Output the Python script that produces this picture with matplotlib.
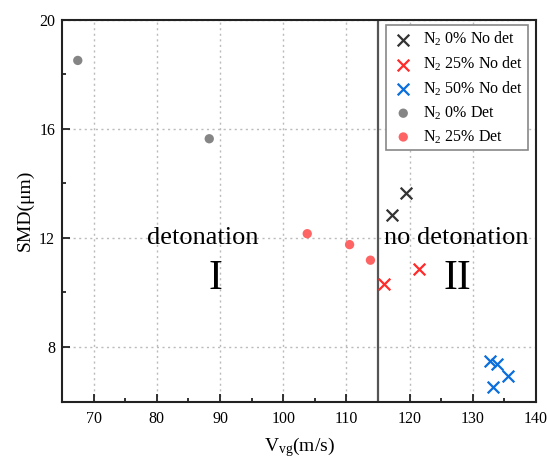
import matplotlib
matplotlib.use("Agg")
import matplotlib.pyplot as plt
from matplotlib.ticker import MultipleLocator

plt.rcParams['font.family'] = ['Liberation Serif', 'DejaVu Serif']
plt.rcParams['mathtext.fontset'] = 'custom'
plt.rcParams['mathtext.rm'] = 'Liberation Serif'
plt.rcParams['mathtext.it'] = 'Liberation Serif'

# Data
n0_nodet_x = [117.2, 119.5]
n0_nodet_y = [12.85, 13.65]
n25_nodet_x = [116.0, 121.5]
n25_nodet_y = [10.29, 10.87]
n50_nodet_x = [132.7, 133.8, 135.5, 133.2]
n50_nodet_y = [7.47, 7.36, 6.92, 6.53]
n0_det_x = [67.5, 88.3]
n0_det_y = [18.5, 15.63]
n25_det_x = [103.8, 110.5, 113.8]
n25_det_y = [12.15, 11.75, 11.18]
boundary_x = 115

fig = plt.figure(figsize=(5.47, 4.61), dpi=100)
ax = fig.add_axes([0.1133, 0.129, 0.8667, 0.8287])

ax.scatter(n0_nodet_x, n0_nodet_y, marker='x', s=70, color='#333333', linewidths=1.6,
           label=r'N$_2$ 0% No det', zorder=3)
ax.scatter(n25_nodet_x, n25_nodet_y, marker='x', s=70, color='#ff2a2a', linewidths=1.6,
           label=r'N$_2$ 25% No det', zorder=3)
ax.scatter(n50_nodet_x, n50_nodet_y, marker='x', s=70, color='#0a6fdc', linewidths=1.6,
           label=r'N$_2$ 50% No det', zorder=3)
ax.scatter(n0_det_x, n0_det_y, marker='o', s=45, color='#858585', edgecolors='none',
           label=r'N$_2$ 0% Det', zorder=3)
ax.scatter(n25_det_x, n25_det_y, marker='o', s=45, color='#ff6464', edgecolors='none',
           label=r'N$_2$ 25% Det', zorder=3)

ax.axvline(boundary_x, color='#555555', lw=1.6, zorder=2)

ax.set_xlim(65, 140)
ax.set_ylim(6, 20)
ax.xaxis.set_major_locator(MultipleLocator(10))
ax.xaxis.set_minor_locator(MultipleLocator(5))
ax.yaxis.set_major_locator(MultipleLocator(4))
ax.yaxis.set_minor_locator(MultipleLocator(2))
ax.tick_params(which='both', direction='in', labelsize=11.5, width=1.3, color='#222222')
ax.tick_params(which='major', length=6)
ax.tick_params(which='minor', length=3)
ax.tick_params(axis='x', pad=7)
ax.tick_params(axis='y', pad=5)
ax.grid(True, which='major', linestyle=(0, (1.5, 2.5)), color='#bbbbbb', lw=1)
for sp in ax.spines.values():
    sp.set_linewidth(1.5)
    sp.set_color('#222222')

ax.set_xlabel(r'V$_{\mathrm{vg}}$(m/s)', fontsize=14, labelpad=6)
ax.set_ylabel('SMD(μm)', fontsize=14, labelpad=4)

ax.text(87.2, 12.0, 'detonation', fontsize=19, ha='center', va='center')
ax.text(89.2, 10.5, 'I', fontsize=30, ha='center', va='center')
ax.text(127.4, 12.0, 'no detonation', fontsize=19, ha='center', va='center')
ax.text(127.6, 10.5, 'II', fontsize=30, ha='center', va='center')

leg = ax.legend(loc='upper right', fontsize=11.5, frameon=True, fancybox=False,
                edgecolor='#888888', framealpha=1, borderpad=0.3, handletextpad=0.45,
                labelspacing=0.4, handlelength=1.6, borderaxespad=0,
                bbox_to_anchor=(0.983, 0.985))
leg.get_frame().set_linewidth(1.2)

fig.savefig('out.png', dpi=100)
